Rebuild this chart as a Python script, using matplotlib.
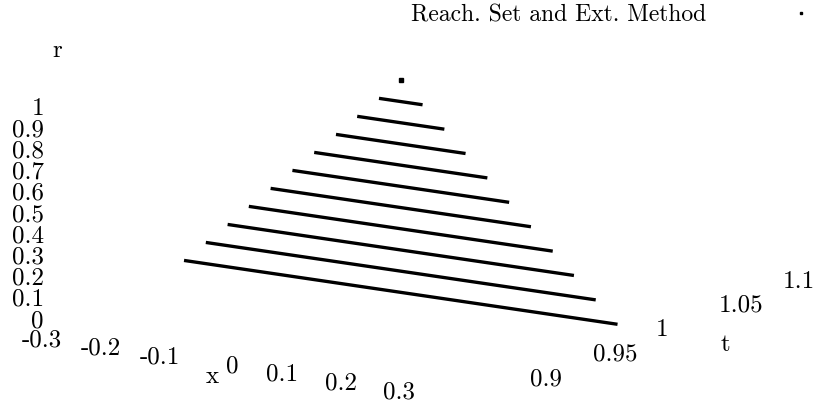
import numpy as np
import matplotlib
matplotlib.use("Agg")
import matplotlib.pyplot as plt
from mpl_toolkits.mplot3d import proj3d

plt.rcParams['font.family'] = ['cmr10', 'DejaVu Serif']
plt.rcParams['font.size'] = 18

# fuzzy reach set at t = 1: one x interval per membership level r
r_levels = [0.0, 0.1, 0.2, 0.3, 0.4, 0.5, 0.6, 0.7, 0.8, 0.9, 1.0]
half_width = [0.368, 0.331, 0.294, 0.258, 0.221, 0.184, 0.147, 0.110, 0.074, 0.037, 0.0]
t_value = 1.0

x_ticks = [-0.3, -0.2, -0.1, 0.0, 0.1, 0.2, 0.3]
x_ticklabels = ['-0.3', '-0.2', '-0.1', '0', '0.1', '0.2', '0.3']
t_ticks = [0.9, 0.95, 1.0, 1.05, 1.1]
t_ticklabels = ['0.9', '0.95', '1', '1.05', '1.1']
r_ticks = [0.0, 0.1, 0.2, 0.3, 0.4, 0.5, 0.6, 0.7, 0.8, 0.9, 1.0]
r_ticklabels = ['0', '0.1', '0.2', '0.3', '0.4', '0.5', '0.6', '0.7', '0.8', '0.9', '1']

fig = plt.figure(figsize=(8.15, 4.04), dpi=100)
ax = fig.add_axes([0.2372, 0.0252, 0.4957, 1.0], projection='3d')
ax.set_proj_type('ortho')
ax.view_init(elev=13.8, azim=-58.3)
ax.set_xlim(-0.4, 0.4)
ax.set_ylim(0.9, 1.1)
ax.set_zlim(0.0, 1.0)
ax.set_box_aspect((553.8, 480.3, 218.3), zoom=1.838)
ax.set_axis_off()

for r, hw in zip(r_levels, half_width):
    if hw > 0:
        ax.plot([-hw, hw], [t_value, t_value], [r, r], color='black', lw=2.4,
                solid_capstyle='butt', clip_on=False)
    else:
        ax.plot([0.0], [t_value], [r], 's', color='black', ms=2.4, clip_on=False,
                label='Reach. Set and Ext. Method')


def label3d(x, y, z, s, **kw):
    # project once and place as a flat text so its box stays where it is drawn
    px, py, _ = proj3d.proj_transform(x, y, z, ax.get_proj())
    ax.text2D(px, py, s, transform=ax.transData, **kw)


# tick labels, gnuplot style, no axis lines
for v, s in zip(x_ticks, x_ticklabels):
    label3d(v, 0.8716, -0.081, s, ha='right', va='baseline')
for v, s in zip(t_ticks, t_ticklabels):
    label3d(0.4336, v, -0.030, s, ha='left', va='baseline')
for v, s in zip(r_ticks, r_ticklabels):
    label3d(-0.3282, 0.8704, v, s, ha='right', va='baseline')

label3d(-0.0455, 0.8716, -0.149, 'x', ha='center', va='baseline')
label3d(0.4336, 1.0551, -0.226, 't', ha='center', va='baseline')
label3d(-0.306, 0.8704, 1.283, 'r', ha='center', va='baseline')

leg = ax.legend(loc='center right', bbox_to_anchor=(812.5 / 815, 389 / 404),
                bbox_transform=fig.transFigure, frameon=False, markerfirst=False,
                handlelength=1.0, handletextpad=3.5, borderpad=0, borderaxespad=0,
                fontsize=17, markerscale=0.8)

fig.savefig('out.png', dpi=100)
